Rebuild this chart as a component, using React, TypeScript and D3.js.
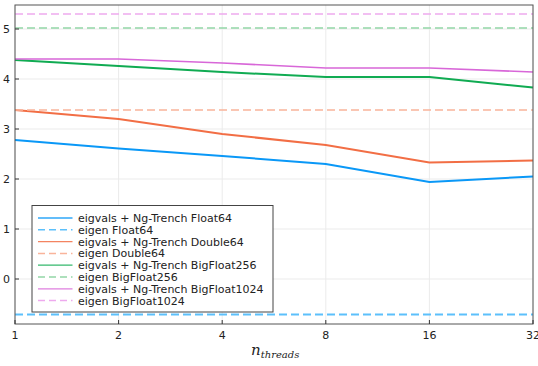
import React from 'react';
import * as d3 from 'd3';

// thread counts on the x axis (log2)
const threads = [1, 2, 4, 8, 16, 32];
const xTickLabels = ['1', '2', '4', '8', '16', '32'];
const yTicks = [0, 1, 2, 3, 4, 5];

// solid series: eigvals + Ng-Trench
const ngFloat64 = [2.78, 2.61, 2.46, 2.3, 1.94, 2.05];
const ngDouble64 = [3.38, 3.2, 2.9, 2.68, 2.33, 2.37];
const ngBigFloat256 = [4.38, 4.26, 4.14, 4.04, 4.04, 3.83];
const ngBigFloat1024 = [4.4, 4.4, 4.32, 4.22, 4.22, 4.14];

// dashed series: eigen (constant)
const eigenFloat64 = -0.71;
const eigenDouble64 = 3.38;
const eigenBigFloat256 = 5.02;
const eigenBigFloat1024 = 5.3;

const blue = '#0a98f7';
const orange = '#f26e45';
const green = '#10ab52';
const pink = '#d867d8';

interface Entry {
  label: string;
  color: string;
  dashed: boolean;
  width: number;
  values: number[];
}

const entries: Entry[] = [
  { label: 'eigvals + Ng-Trench Float64', color: blue, dashed: false, width: 2, values: ngFloat64 },
  { label: 'eigen Float64', color: '#5cc0fb', dashed: true, width: 2, values: threads.map(() => eigenFloat64) },
  { label: 'eigvals + Ng-Trench Double64', color: orange, dashed: false, width: 2, values: ngDouble64 },
  { label: 'eigen Double64', color: '#f9b49b', dashed: true, width: 1.5, values: threads.map(() => eigenDouble64) },
  { label: 'eigvals + Ng-Trench BigFloat256', color: green, dashed: false, width: 2, values: ngBigFloat256 },
  { label: 'eigen BigFloat256', color: '#92d6a6', dashed: true, width: 1.5, values: threads.map(() => eigenBigFloat256) },
  { label: 'eigvals + Ng-Trench BigFloat1024', color: pink, dashed: false, width: 1.6, values: ngBigFloat1024 },
  { label: 'eigen BigFloat1024', color: '#eeaaee', dashed: true, width: 1.5, values: threads.map(() => eigenBigFloat1024) },
];

const W = 538;
const H = 366;
const left = 15;
const right = 533;
const top = 5;
const bottom = 324;

export default function App() {
  const x = d3.scaleLog().base(2).domain([1, 32]).range([left, right]);
  const y = d3.scaleLinear().domain([-0.9, 5.48]).range([bottom, top]);

  const line = d3
    .line<number>()
    .x((_, i) => x(threads[i]))
    .y((d) => y(d));

  const font = 'DejaVu Sans, sans-serif';
  const legX = 32;
  const legY = 205.5;
  const rowH = 11.8;

  return (
    <div style={{ position: 'fixed', left: 0, top: 0 }}>
      <svg width={W} height={H} style={{ display: 'block', background: '#fff' }}>
        {/* grid */}
        {threads.map((t) => (
          <line key={'gx' + t} x1={x(t)} x2={x(t)} y1={top} y2={bottom} stroke="#ebebeb" strokeWidth={1} />
        ))}
        {yTicks.map((v) => (
          <line key={'gy' + v} x1={left} x2={right} y1={y(v)} y2={y(v)} stroke="#ebebeb" strokeWidth={1} />
        ))}

        {/* series */}
        {entries.map((e) => (
          <path
            key={e.label}
            d={line(e.values) || ''}
            fill="none"
            stroke={e.color}
            strokeWidth={e.width}
            strokeDasharray={e.dashed ? '8,4' : undefined}
          />
        ))}

        {/* frame */}
        <rect x={left} y={top} width={right - left} height={bottom - top} fill="none" stroke="#555" strokeWidth={1} />

        {/* ticks */}
        {threads.map((t, i) => (
          <g key={'tx' + t}>
            <line x1={x(t)} x2={x(t)} y1={bottom} y2={bottom - 4} stroke="#333" />
            <text x={x(t)} y={339} fontFamily={font} fontSize={11} fill="#222" textAnchor="middle">
              {xTickLabels[i]}
            </text>
          </g>
        ))}
        {yTicks.map((v) => (
          <g key={'ty' + v}>
            <line x1={left} x2={left + 4} y1={y(v)} y2={y(v)} stroke="#333" />
            <text x={10} y={y(v) + 4} fontFamily={font} fontSize={11} fill="#222" textAnchor="end">
              {v}
            </text>
          </g>
        ))}

        {/* x label */}
        <text x={251} y={355} fontFamily="DejaVu Serif, serif" fontStyle="italic" fontSize={15} fill="#222">
          n
          <tspan fontSize={10} dy={3}>
            threads
          </tspan>
        </text>

        {/* legend */}
        <rect x={legX} y={legY} width={241} height={106.5} fill="#fff" stroke="#444" strokeWidth={1} />
        {entries.map((e, i) => {
          const cy = legY + 12.5 + i * rowH;
          return (
            <g key={'l' + e.label}>
              <line
                x1={38}
                x2={72.5}
                y1={cy}
                y2={cy}
                stroke={e.color}
                strokeWidth={e.dashed ? 1.5 : 1.3}
                strokeOpacity={e.dashed ? 1 : 0.85}
                strokeDasharray={e.dashed ? '7,4' : undefined}
              />
              <text x={78} y={cy + 4} fontFamily={font} fontSize={11} fill="#222">
                {e.label}
              </text>
            </g>
          );
        })}
      </svg>
    </div>
  );
}
